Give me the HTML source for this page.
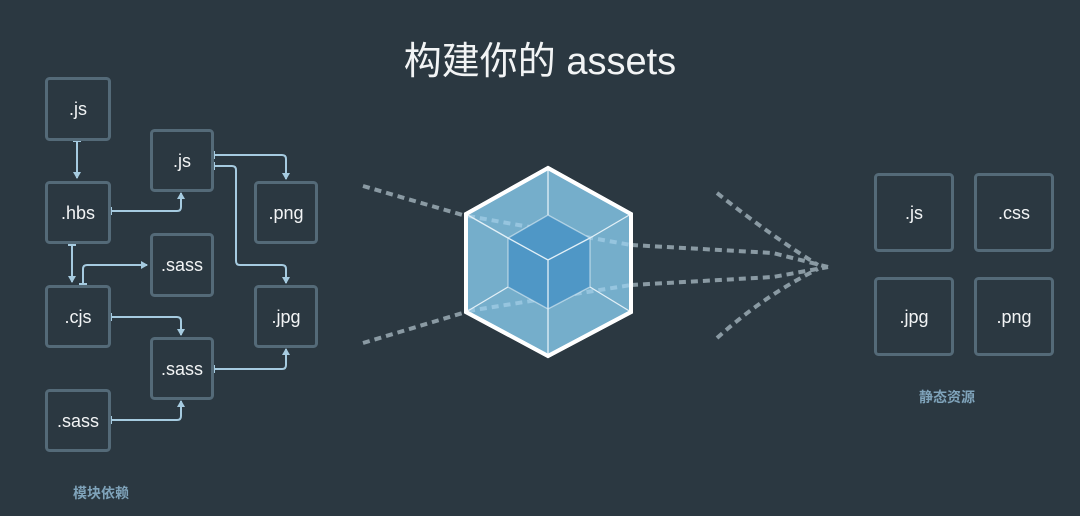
<!DOCTYPE html>
<html><head><meta charset="utf-8"><style>
html,body{margin:0;padding:0;background:#2b3841;}
svg{display:block}
text{font-family:"Liberation Sans","Noto Sans CJK SC",sans-serif;}
</style></head><body>
<svg width="1080" height="516" viewBox="0 0 1080 516" xmlns="http://www.w3.org/2000/svg">
<rect width="1080" height="516" fill="#2b3841"/>
<text x="540" y="74" text-anchor="middle" font-size="38" fill="#f2f4f5">构建你的 assets</text>
<defs>
<marker id="a" markerWidth="8" markerHeight="8" refX="6" refY="4" orient="auto" markerUnits="userSpaceOnUse"><path d="M0,0 L7,4 L0,8 Z" fill="#a6cbe0"/></marker>
<marker id="t" markerWidth="2" markerHeight="8" refX="1" refY="4" orient="auto" markerUnits="userSpaceOnUse"><rect x="0" y="0" width="2" height="8" fill="#a6cbe0"/></marker>
</defs>
<g fill="none" stroke="#a6cbe0" stroke-width="2" marker-end="url(#a)" marker-start="url(#t)">
<path d="M77,141 V178"/>
<path d="M111,211 H177 Q181,211 181,207 V193"/>
<path d="M72,245 V282"/>
<path d="M83,284 V269 Q83,265 87,265 H147"/>
<path d="M214,155 H282 Q286,155 286,159 V179"/>
<path d="M214,166 H232 Q236,166 236,170 V261 Q236,265 240,265 H282 Q286,265 286,269 V283"/>
<path d="M111,317 H177 Q181,317 181,321 V335"/>
<path d="M214,369 H282 Q286,369 286,365 V349"/>
<path d="M111,420 H177 Q181,420 181,416 V401"/>
</g>
<g fill="#2b3841" stroke="#546a78" stroke-width="3">
<rect x="46.5" y="78.5" width="63" height="61" rx="3"/>
<rect x="46.5" y="182.5" width="63" height="60" rx="3"/>
<rect x="46.5" y="286.5" width="63" height="60" rx="3"/>
<rect x="46.5" y="390.5" width="63" height="60" rx="3"/>
<rect x="151.5" y="130.5" width="61" height="60" rx="3"/>
<rect x="151.5" y="234.5" width="61" height="61" rx="3"/>
<rect x="151.5" y="338.5" width="61" height="60" rx="3"/>
<rect x="255.5" y="182.5" width="61" height="60" rx="3"/>
<rect x="255.5" y="286.5" width="61" height="60" rx="3"/>
<rect x="875.5" y="174.5" width="77" height="76" rx="3"/>
<rect x="975.5" y="174.5" width="77" height="76" rx="3"/>
<rect x="875.5" y="278.5" width="77" height="76" rx="3"/>
<rect x="975.5" y="278.5" width="77" height="76" rx="3"/>
</g>
<g fill="#f2f4f5" font-size="18" text-anchor="middle">
<text x="78" y="115">.js</text>
<text x="78" y="219">.hbs</text>
<text x="78" y="323">.cjs</text>
<text x="78" y="427">.sass</text>
<text x="182" y="167">.js</text>
<text x="182" y="271">.sass</text>
<text x="182" y="375">.sass</text>
<text x="286" y="219">.png</text>
<text x="286" y="323">.jpg</text>
<text x="914" y="219">.js</text>
<text x="1014" y="219">.css</text>
<text x="914" y="323">.jpg</text>
<text x="1014" y="323">.png</text>
</g>
<g fill="#7fa3ba" font-size="14" font-weight="bold" text-anchor="middle">
<text x="101" y="498">模块依赖</text>
<text x="947" y="402">静态资源</text>
</g>
<g fill="none" stroke="#8a9aa3" stroke-width="4" stroke-dasharray="7,5">
<path d="M363,186 L466,216"/>
<path d="M631,245 L773,253 L828,267"/>
<path d="M363,343 L466,312"/>
<path d="M631,285 L773,277 L828,267"/>
<path d="M717,193 Q770,235 818,265"/>
<path d="M717,338 Q765,295 818,269"/>
</g>
<polygon points="548,168 631,214 631,312 548,356 466,312 466,214" fill="#75aecb" stroke="#ffffff" stroke-width="4" stroke-linejoin="miter"/>
<g fill="none" stroke="#9fcbe3" stroke-width="4" stroke-dasharray="7,5" stroke-opacity="0.8">
<path d="M468,216 L631,245"/>
<path d="M468,311 L631,285"/>
</g>
<polygon points="548,215 590,238 590,287 548,309 508,287 508,238" fill="#4f97c6"/>
<g stroke="#e3f0f7" stroke-width="1.3" fill="none">
<path d="M548,168 V215 M466,214 L508,238 M631,214 L590,238 M466,312 L508,287 M631,312 L590,287 M548,356 V309"/>
<path d="M508,238 L548,260 L590,238 M548,260 V309"/>
<polygon points="548,215 590,238 590,287 548,309 508,287 508,238" stroke-opacity="0.6"/>
</g>
<polygon points="548,168 631,214 631,312 548,356 466,312 466,214" fill="none" stroke="#ffffff" stroke-width="4"/>
</svg>
</body></html>
